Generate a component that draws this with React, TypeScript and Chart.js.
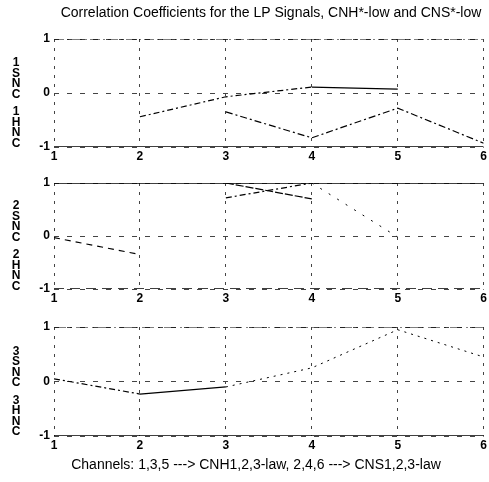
import React, { useEffect, useRef } from "react";
import { Chart, registerables } from "chart.js";
Chart.register(...registerables);

// ---- data ----
const channels = [1, 2, 3, 4, 5, 6];
const yTickValues = [-1, 0, 1];
const titleText = "Correlation Coefficients for the LP Signals, CNH*-low and CNS*-low";
const xLabelText = "Channels: 1,3,5 ---> CNH1,2,3-law, 2,4,6 ---> CNS1,2,3-law";

// subplot 1 (CNH1 / CNS1)
const p1Top = [1, 1, 1, 1, 1, 1];
const p1Bottom = [-1, -1, -1, -1, -1, -1];
const p1A = [null, -0.44, -0.07, 0.11, 0.07, null];
const p1B = [null, null, -0.35, -0.83, -0.28, -0.93];

// subplot 2 (CNH2 / CNS2)
const p2Top = [1, 1, 1, 1, 1, 1];
const p2Bottom = [-1, -1, -1, -1, -1, -1];
const p2A = [null, null, 1, 0.7, null, null];
const p2B = [null, null, 0.72, 1, null, null];
const p2C = [null, null, null, 1, -0.02, null];
const p2D = [-0.03, -0.35, null, null, null, null];

// subplot 3 (CNH3 / CNS3)
const p3Top = [1, 1, 1, 1, 1, 1];
const p3Bottom = [-1, -1, -1, -1, -1, -1];
const p3A = [0.05, -0.23, -0.1, null, null, null];
const p3B = [null, null, -0.1, 0.25, 0.95, 0.45];

type Series = {
  values: (number | null)[];
  dash: number[];
  width?: number;
  segDash?: (i: number) => number[];
};

const FONT = "'Liberation Sans', Arial, sans-serif";

function toPoints(vals: (number | null)[]) {
  return channels.map((c, i) => ({ x: c, y: vals[i] }));
}

function makeConfig(
  series: Series[],
  n: number,
  padTop: number,
  xAxisHeight: number,
  extra: { title?: boolean; xlabel?: boolean }
): any {
  const labelPlugin = {
    id: "texts" + n,
    afterDraw(chart: any) {
      const ctx = chart.ctx;
      const area = chart.chartArea;
      ctx.save();
      ctx.fillStyle = "#000";
      ctx.font = `bold 12px ${FONT}`;
      ctx.textAlign = "center";
      ctx.textBaseline = "middle";
      const top = `CNS${n}`.split("").reverse();
      const bottom = `CNH${n}`.split("").reverse();
      const step = 10.5;
      const gap = 7;
      const total = step * 8 + gap;
      const cy = (area.top + area.bottom) / 2 + 10;
      let y = cy - total / 2 + step / 2;
      top.forEach((ch) => {
        ctx.fillText(ch, 16, y);
        y += step;
      });
      y += gap;
      bottom.forEach((ch) => {
        ctx.fillText(ch, 16, y);
        y += step;
      });
      ctx.font = `14px ${FONT}`;
      if (extra.title) ctx.fillText(titleText, 271, 13);
      if (extra.xlabel) ctx.fillText(xLabelText, 256, chart.height - 17);
      ctx.restore();
    },
  };

  return {
    type: "line",
    data: {
      datasets: series.map((s, k) => ({
        label: "s" + k,
        data: toPoints(s.values),
        borderColor: "#000",
        borderWidth: s.width || 1.2,
        borderDash: s.dash,
        pointRadius: 0,
        fill: false,
        tension: 0,
        spanGaps: false,
        segment: s.segDash ? { borderDash: (ctx: any) => s.segDash!(ctx.p0DataIndex) } : undefined,
      })),
    },
    options: {
      animation: false,
      responsive: false,
      maintainAspectRatio: false,
      events: [],
      layout: { padding: { top: padTop, right: 5, left: 0, bottom: 0 } },
      plugins: { legend: { display: false }, tooltip: { enabled: false }, title: { display: false } },
      scales: {
        x: {
          type: "linear",
          min: 1,
          max: 6,
          afterBuildTicks(scale: any) {
            scale.ticks = channels.map((v) => ({ value: v }));
          },
          afterFit(scale: any) {
            scale.height = xAxisHeight;
          },
          border: { display: false, dash: [3, 6] },
          grid: { color: "#444", lineWidth: 1, drawTicks: false },
          ticks: { color: "#000", padding: 2, font: { family: FONT, size: 12, weight: "bold" } },
        },
        y: {
          type: "linear",
          min: -1,
          max: 1,
          afterBuildTicks(scale: any) {
            scale.ticks = yTickValues.map((v) => ({ value: v }));
          },
          afterFit(scale: any) {
            scale.width = 54;
          },
          border: { display: false, dash: [5, 8] },
          grid: { color: "#444", lineWidth: 1, drawTicks: false },
          ticks: { color: "#000", padding: 4, font: { family: FONT, size: 12, weight: "bold" } },
        },
      },
    },
    plugins: [labelPlugin],
  };
}

function Panel(props: { top: number; height: number; cfg: any }) {
  const ref = useRef<HTMLCanvasElement | null>(null);
  useEffect(() => {
    if (!ref.current) return;
    const chart = new Chart(ref.current, props.cfg);
    return () => chart.destroy();
  }, []);
  return (
    <canvas
      ref={ref}
      width={489}
      height={props.height}
      style={{ position: "absolute", left: 0, top: props.top, width: 489, height: props.height }}
    />
  );
}

export default function App() {
  const cfg1 = makeConfig(
    [
      { values: p1Top, dash: [10, 3, 2, 3] },
      { values: p1Bottom, dash: [], width: 1.6 },
      { values: p1A, dash: [6, 3, 2, 3], segDash: (i) => (i === 3 ? [] : [6, 3, 2, 3]) },
      { values: p1B, dash: [7, 3, 2, 3] },
    ],
    1,
    39,
    13,
    { title: true }
  );
  const cfg2 = makeConfig(
    [
      { values: p2Top, dash: [], width: 1.6 },
      { values: p2A, dash: [8, 2] },
      { values: p2B, dash: [6, 3, 2, 3] },
      { values: p2C, dash: [2, 8], width: 1 },
      { values: p2D, dash: [6, 5] },
      { values: p2Bottom, dash: [10, 6], width: 1.4 },
    ],
    2,
    23,
    16,
    {}
  );
  const cfg3 = makeConfig(
    [
      { values: p3Top, dash: [12, 4, 2, 4] },
      { values: p3Bottom, dash: [], width: 1.5 },
      { values: p3A, dash: [], segDash: (i) => (i === 0 ? [6, 3, 2, 3] : []) },
      { values: p3B, dash: [2, 5], width: 1 },
    ],
    3,
    22,
    46,
    { xlabel: true }
  );
  return (
    <div style={{ position: "absolute", left: 0, top: 0, width: 489, height: 482, background: "#fff" }}>
      <Panel top={0} height={160} cfg={cfg1} />
      <Panel top={160} height={145} cfg={cfg2} />
      <Panel top={305} height={177} cfg={cfg3} />
    </div>
  );
}
